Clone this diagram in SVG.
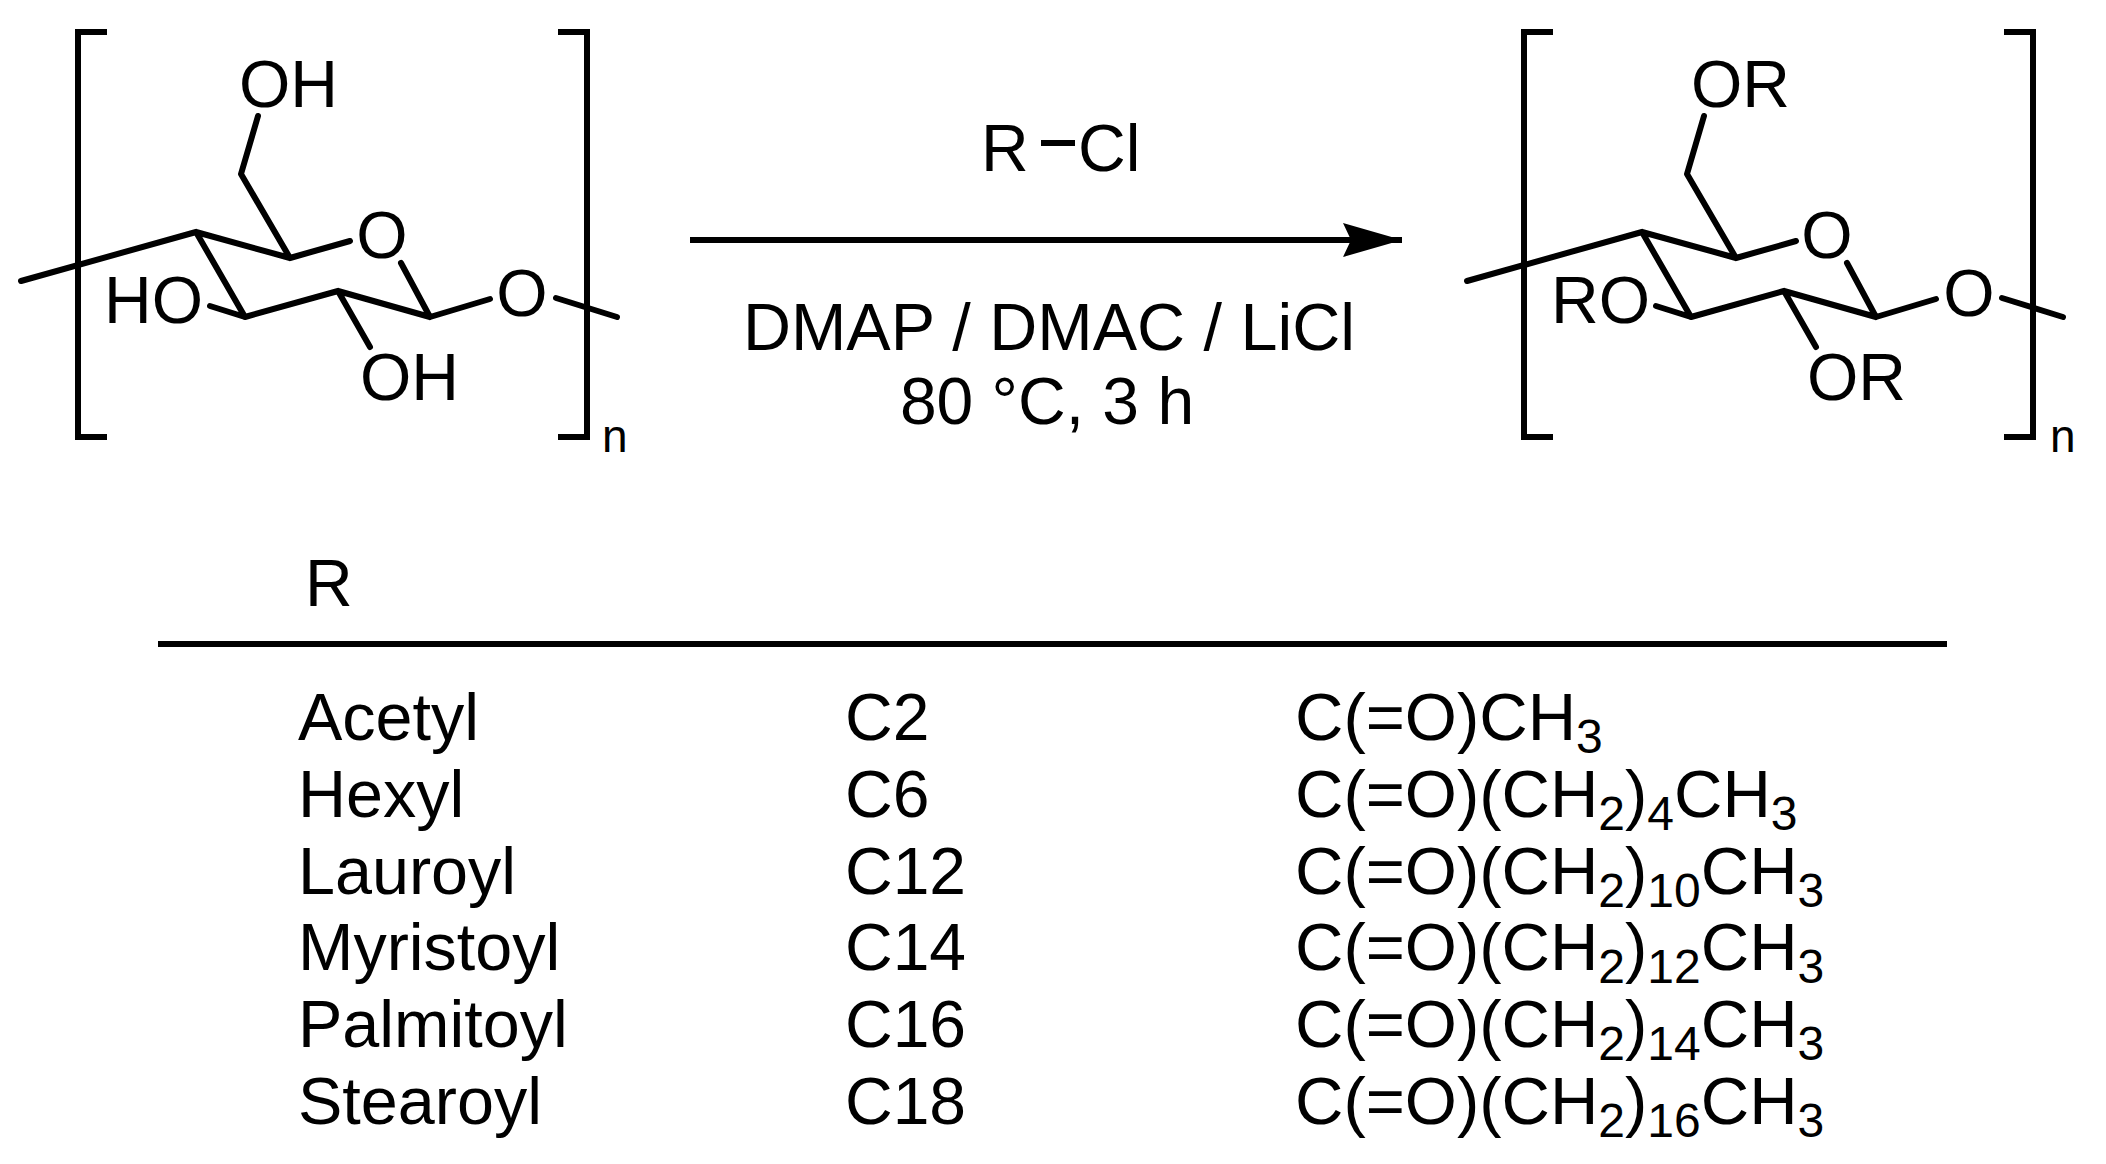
<svg xmlns="http://www.w3.org/2000/svg" width="2106" height="1164" viewBox="0 0 2106 1164">
<style>
text{font-family:"Liberation Sans",Arial,sans-serif;font-size:66px;fill:#000}
.f{font-size:67px}
.nm{font-size:66.5px}
.sub{font-size:48px}
.m{text-anchor:middle}
.n{font-size:46px}
.b{fill:none;stroke:#000;stroke-width:6;stroke-linecap:round;stroke-linejoin:round}
.br{fill:none;stroke:#000;stroke-width:6}
</style>
<defs>
<marker id="ah" markerUnits="userSpaceOnUse" markerWidth="62" markerHeight="40" refX="59" refY="17" orient="auto"><path d="M0 0L59 17L0 34L8 17Z" fill="#000"/></marker>
<g id="skeleton">
<path class="br" d="M107 32H78V437H107M558 32H587V437H558"/>
<path class="b" d="M21 281L196 232L290 258L350 241M196 232L245 317L338 291L430 317L490 299M556 298L617 317M430 317L401 263M245 317L210 306M338 291L370 347M290 258L241 174L258 116"/>
</g>
</defs>
<rect width="2106" height="1164" fill="#fff"/>
<g id="connectors">
<line x1="690" y1="240" x2="1402" y2="240" stroke="#000" stroke-width="6" marker-end="url(#ah)"/>
<line x1="1041" y1="143" x2="1075" y2="143" stroke="#000" stroke-width="6"/>
<line x1="158" y1="644" x2="1947" y2="644" stroke="#000" stroke-width="6"/>
</g>
<g id="cellulose">
<use href="#skeleton"/>
<text x="239" y="107">OH</text>
<text x="104" y="323">HO</text>
<text x="360" y="400">OH</text>
<text x="382" y="258" class="m">O</text>
<text x="522" y="316" class="m">O</text>
<text x="602" y="452" class="n">n</text>
</g>
<g id="ester">
<use href="#skeleton" x="1446"/>
<text x="1691" y="107">OR</text>
<text x="1551" y="323">RO</text>
<text x="1807" y="400">OR</text>
<text x="1827" y="258" class="m">O</text>
<text x="1969" y="316" class="m">O</text>
<text x="2050" y="452" class="n">n</text>
</g>
<g id="reagents">
<text x="981" y="171">R</text>
<text x="1078" y="171">Cl</text>
<text x="1049" y="350" class="m" style="font-size:66.5px">DMAP / DMAC / LiCl</text>
<text x="1047" y="424" class="m">80 °C, 3 h</text>
</g>
<g id="table">
<text x="305" y="606">R</text>
<text class="nm" x="298" y="740">Acetyl</text><text x="845" y="740">C2</text><text class="f" x="1295" y="740">C(=O)CH<tspan class="sub" dy="13">3</tspan></text>
<text class="nm" x="298" y="817">Hexyl</text><text x="845" y="817">C6</text><text class="f" x="1295" y="817">C(=O)(CH<tspan class="sub" dy="13">2</tspan><tspan dy="-13">)</tspan><tspan class="sub" dy="13">4</tspan><tspan dy="-13">CH</tspan><tspan class="sub" dy="13">3</tspan></text>
<text class="nm" x="298" y="894">Lauroyl</text><text x="845" y="894">C12</text><text class="f" x="1295" y="894">C(=O)(CH<tspan class="sub" dy="13">2</tspan><tspan dy="-13">)</tspan><tspan class="sub" dy="13">10</tspan><tspan dy="-13">CH</tspan><tspan class="sub" dy="13">3</tspan></text>
<text class="nm" x="298" y="970">Myristoyl</text><text x="845" y="970">C14</text><text class="f" x="1295" y="970">C(=O)(CH<tspan class="sub" dy="13">2</tspan><tspan dy="-13">)</tspan><tspan class="sub" dy="13">12</tspan><tspan dy="-13">CH</tspan><tspan class="sub" dy="13">3</tspan></text>
<text class="nm" x="298" y="1047">Palmitoyl</text><text x="845" y="1047">C16</text><text class="f" x="1295" y="1047">C(=O)(CH<tspan class="sub" dy="13">2</tspan><tspan dy="-13">)</tspan><tspan class="sub" dy="13">14</tspan><tspan dy="-13">CH</tspan><tspan class="sub" dy="13">3</tspan></text>
<text class="nm" x="298" y="1124">Stearoyl</text><text x="845" y="1124">C18</text><text class="f" x="1295" y="1124">C(=O)(CH<tspan class="sub" dy="13">2</tspan><tspan dy="-13">)</tspan><tspan class="sub" dy="13">16</tspan><tspan dy="-13">CH</tspan><tspan class="sub" dy="13">3</tspan></text>
</g>
</svg>
